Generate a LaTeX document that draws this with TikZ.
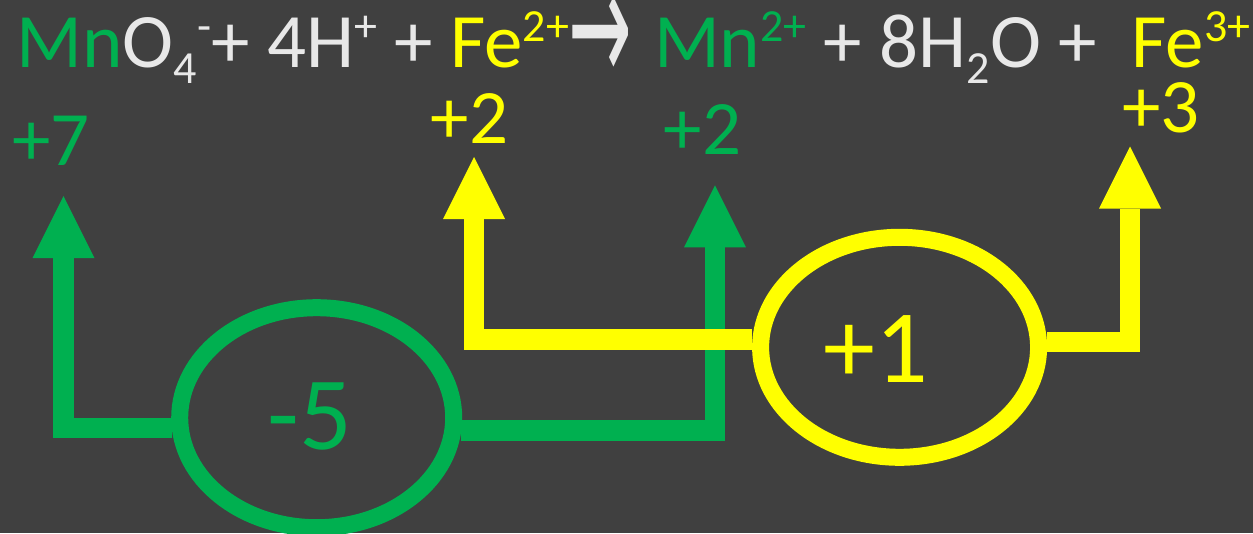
\documentclass[tikz,border=0pt]{standalone}
\usepackage{fontspec}
\setmainfont{Carlito}
\newfontfamily\arrowfont{DejaVu Sans}
\usetikzlibrary{arrows.meta,shapes.geometric}
\definecolor{bgdark}{RGB}{64,64,64}
\definecolor{mngreen}{RGB}{0,176,80}
\definecolor{feyellow}{RGB}{255,255,0}
\definecolor{txtgray}{RGB}{232,232,232}
\newcommand\supx[1]{\raisebox{26pt}{\fontsize{46}{50}\selectfont #1}}
\newcommand\subx[1]{\raisebox{-16pt}{\fontsize{46}{50}\selectfont #1}}
\newcommand\reactarrow{\smash{\raisebox{-16pt}{\scalebox{0.95}[2.05]{\arrowfont\fontsize{80}{90}\selectfont →}}}\kern4pt}
\begin{document}
\begin{tikzpicture}[x=1pt,y=-1pt,
  oxlabel/.style={font=\fontsize{77}{92}\selectfont, inner sep=0pt, anchor=base},
  ringnode/.style={draw, ellipse, line width=17pt, inner sep=0pt, minimum width=276pt, minimum height=220pt},
  bignum/.style={font=\fontsize{104}{120}\selectfont, inner sep=0pt, anchor=base},
  flow/.style={line width=20.5pt, line join=miter,
    -{Triangle[width=62pt,length=62pt,line width=0pt]}},
]
\fill[bgdark] (0,0) rectangle (1253,533);
\useasboundingbox (0,0) rectangle (1253,533);

% equation
\node[anchor=base west, inner sep=0pt, font=\fontsize{77}{92}\selectfont, text=txtgray] (eq) at (16.5,67)
  {\textcolor{mngreen}{Mn}O\subx{4}\supx{-}+ 4H\supx{+} + \textcolor{feyellow}{Fe\supx{2+}}\reactarrow{} \textcolor{mngreen}{Mn\supx{2+}} + 8H\subx{2}O +\ \ \textcolor{feyellow}{Fe\supx{3+}}};

% oxidation numbers
\node[oxlabel, text=mngreen] (ox7) at (51,165) {+7};
\node[oxlabel, text=feyellow] (oxfe2) at (469.5,143.3) {+2};
\node[oxlabel, text=mngreen] (oxmn2) at (702.5,154) {+2};
\node[oxlabel, text=feyellow] (oxfe3) at (1161,132) {+3};

% arrow tips
\coordinate (gL) at (63.5,196);
\coordinate (gR) at (715,185.3);
\coordinate (yL) at (474,157);
\coordinate (yR) at (1130,146.5);

% green part
\node[ringnode, draw=mngreen, minimum width=274pt] (e5) at (316.7,417.7) {};
\node[bignum, text=mngreen] (t5) at (310,449) {-5};
\draw[flow, mngreen] (e5.184.6) -| (gL);
\draw[flow, mngreen] (e5.355.4) -| (gR);

% yellow part
\node[ringnode, draw=feyellow, minimum width=278pt] (e1) at (899.6,347.3) {};
\node[bignum, text=feyellow] (t1) at (876,382) {+1};
\draw[flow, feyellow] (e1.177.4) -| (yL);
\draw[flow, feyellow] (e1.2.6) -| (yR);
\end{tikzpicture}
\end{document}
